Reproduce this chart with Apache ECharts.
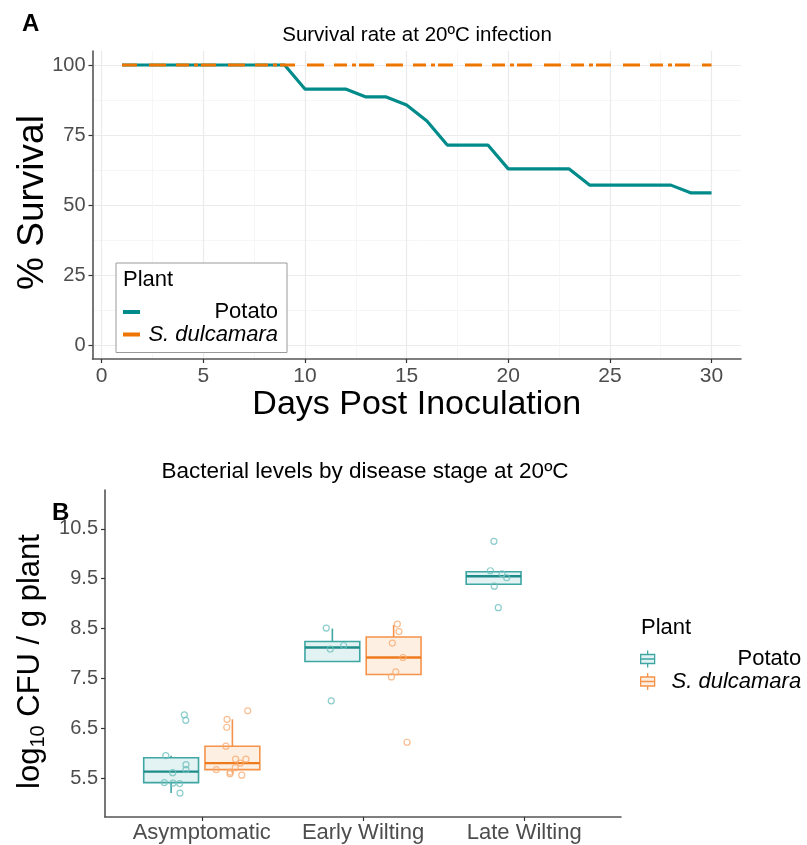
<!DOCTYPE html>
<html>
<head>
<meta charset="utf-8">
<script src="https://cdn.jsdelivr.net/npm/echarts@6/dist/echarts.min.js"></script>
<style>html,body{margin:0;padding:0;background:#fff}#c{width:807px;height:845px}</style>
</head>
<body>
<div id="c"></div>
<script>
const FONT = 'Liberation Sans, Arial, sans-serif';

// ---------- Panel A data ----------
const days = [1,2,3,4,5,6,7,8,9,10,11,12,13,14,15,16,17,18,19,20,21,22,23,24,25,26,27,28,29,30];
const potatoSurvival = [100,100,100,100,100,100,100,100,100,91.4,91.4,91.4,88.6,88.6,85.7,80.0,71.4,71.4,71.4,62.9,62.9,62.9,62.9,57.1,57.1,57.1,57.1,57.1,54.3,54.3];
const dulcamaraSurvival = [100,100,100,100,100,100,100,100,100,100,100,100,100,100,100,100,100,100,100,100,100,100,100,100,100,100,100,100,100,100];
const dayTicks = [0,5,10,15,20,25,30];
const dayMinorTicks = [2.5,7.5,12.5,17.5,22.5,27.5];
const survivalTicks = [0,25,50,75,100];
const survivalMinorTicks = [12.5,37.5,62.5,87.5];

// ---------- Panel B data ----------
const stages = ['Asymptomatic','Early Wilting','Late Wilting'];
const cfuTicks = [5.5,6.5,7.5,8.5,9.5,10.5];
// box statistics per stage: [lower whisker, Q1, median, Q3, upper whisker]
const potatoBox = [[5.20,5.41,5.63,5.91,5.95],[7.84,7.84,8.12,8.24,8.50],[9.39,9.39,9.55,9.64,9.64]];
const dulcamaraBox = [[5.60,5.67,5.80,6.14,6.68],[7.58,7.58,7.92,8.33,8.57],null];
// individual plants (log10 CFU/g) per stage
const potatoPoints = [
  [5.95,6.77,6.66,5.77,5.67,5.61,5.41,5.40,5.39,5.20],
  [8.51,8.09,8.16,7.05],
  [10.25,9.66,9.60,9.52,9.35,8.92]
];
const dulcamaraPoints = [
  [6.85,6.68,6.52,6.14,5.88,5.88,5.80,5.71,5.67,5.62,5.59,5.56],
  [8.59,8.44,8.21,7.92,7.63,7.53,6.22],
  []
];
// horizontal jitter (in category units)
const potatoJitter = [
  [-0.033,0.082,0.091,0.092,0.092,0.010,-0.042,0.012,0.053,0.055],
  [-0.038,-0.013,0.070,-0.007],
  [0.002,-0.020,0.052,0.081,0.004,0.029]
];
const dulcamaraJitter = [
  [0.095,-0.033,-0.035,-0.040,0.020,0.084,0.049,0.018,-0.100,-0.013,-0.015,0.058],
  [0.023,0.033,-0.008,0.058,0.013,-0.014,0.083],
  []
];

const TEAL = '#008B8B', ORANGE = '#EE7600';
const DODGE = 0.19, HALF = 0.17;

function boxData(stats, dodge) {
  const out = [];
  stats.forEach((s, i) => { if (s) out.push([i + 1 + dodge].concat(s)); });
  return out;
}
function pointData(vals, jit, dodge) {
  const out = [];
  vals.forEach((arr, i) => arr.forEach((v, k) => out.push([i + 1 + dodge + jit[i][k], v])));
  return out;
}
function boxRenderer(fill, stroke, medianColor) {
  return function (params, api) {
    const x = api.value(0), mn = api.value(1), q1 = api.value(2), md = api.value(3), q3 = api.value(4), mx = api.value(5);
    const tl = api.coord([x - HALF, q3]), br = api.coord([x + HALF, q1]);
    const cMax = api.coord([x, mx]), cQ3 = api.coord([x, q3]), cQ1 = api.coord([x, q1]), cMin = api.coord([x, mn]);
    const mL = api.coord([x - HALF, md]), mR = api.coord([x + HALF, md]);
    return {
      type: 'group',
      children: [
        { type: 'line', shape: { x1: cQ3[0], y1: cQ3[1], x2: cMax[0], y2: cMax[1] }, style: { stroke: stroke, lineWidth: 1.6 } },
        { type: 'line', shape: { x1: cQ1[0], y1: cQ1[1], x2: cMin[0], y2: cMin[1] }, style: { stroke: stroke, lineWidth: 1.6 } },
        { type: 'rect', shape: { x: tl[0], y: tl[1], width: br[0] - tl[0], height: br[1] - tl[1] }, style: { fill: fill, stroke: stroke, lineWidth: 1.6 } },
        { type: 'line', shape: { x1: mL[0], y1: mL[1], x2: mR[0], y2: mR[1] }, style: { stroke: medianColor, lineWidth: 2.4 } }
      ]
    };
  };
}

const tickLabel = { fontSize: 21, color: '#4D4D4D', fontFamily: FONT };
const axisLineStyle = { color: '#555555', width: 1.6 };
const tickStyle = { color: '#333333', width: 1.2 };
const legendRich = {
  r: { width: 133, align: 'right', fontSize: 22, lineHeight: 21, color: '#000', fontFamily: FONT },
  i: { width: 133, align: 'right', fontSize: 22, lineHeight: 21, color: '#000', fontFamily: FONT, fontStyle: 'italic' }
};
const legendRich2 = {
  r: { width: 140, align: 'right', fontSize: 22, lineHeight: 21, color: '#000', fontFamily: FONT },
  i: { width: 140, align: 'right', fontSize: 22, lineHeight: 21, color: '#000', fontFamily: FONT, fontStyle: 'italic' }
};
const boxIcon = 'path://M8,0L8,4M1,4L15,4L15,13L1,13ZM1,8.5L15,8.5M8,13L8,17';

const option = {
  animation: false,
  backgroundColor: '#fff',
  textStyle: { fontFamily: FONT },
  title: [
    { text: 'A', left: 22, top: 12, padding: 0, textStyle: { fontSize: 24, fontWeight: 'bold', color: '#000', fontFamily: FONT } },
    { text: 'Survival rate at 20ºC infection', left: 417, top: 25, padding: 0, textAlign: 'center', textStyle: { fontSize: 20.5, fontWeight: 'normal', color: '#000', fontFamily: FONT } },
    { text: 'Plant', left: 123, top: 269, padding: 0, textStyle: { fontSize: 22, fontWeight: 'normal', color: '#000', fontFamily: FONT } },
    { text: 'B', left: 52, top: 501, padding: 0, textStyle: { fontSize: 24, fontWeight: 'bold', color: '#000', fontFamily: FONT } },
    { text: 'Bacterial levels by disease stage at 20ºC', left: 365, top: 460, padding: 0, textAlign: 'center', textStyle: { fontSize: 22.5, fontWeight: 'normal', color: '#000', fontFamily: FONT } },
    { text: 'Plant', left: 641, top: 617, padding: 0, textStyle: { fontSize: 22, fontWeight: 'normal', color: '#000', fontFamily: FONT } }
  ],
  legend: [
    {
      left: 116, top: 263, orient: 'vertical',
      borderColor: '#9A9A9A', borderWidth: 1, backgroundColor: '#fff',
      padding: [38, 9, 7, 7], itemGap: 0.5, itemWidth: 17, itemHeight: 4, itemTextGap: 10,
      data: [
        { name: 'Potato', icon: 'rect', lineStyle: { type: 'solid', width: 3.5 } },
        { name: 'S. dulcamara', icon: 'rect', lineStyle: { type: 'solid', width: 3.5 } }
      ],
      formatter: n => n === 'Potato' ? '{r|Potato}' : '{i|S. dulcamara}',
      textStyle: { rich: legendRich },
      selectedMode: false
    },
    {
      left: 640, top: 648, orient: 'vertical',
      padding: 0, itemGap: 0.5, itemWidth: 17, itemHeight: 17, itemTextGap: 5,
      data: [
        { name: 'Potato CFU', icon: boxIcon, itemStyle: { color: '#E3F2F2', borderColor: '#3EA6A3', borderWidth: 1.3 } },
        { name: 'S. dulcamara CFU', icon: boxIcon, itemStyle: { color: '#FDEFE2', borderColor: '#F5934A', borderWidth: 1.3 } }
      ],
      formatter: n => n.indexOf('Potato') === 0 ? '{r|Potato}' : '{i|S. dulcamara}',
      textStyle: { rich: legendRich2 },
      selectedMode: false
    }
  ],
  grid: [
    { left: 92.5, top: 51, width: 648.5, height: 308, containLabel: false, outerBoundsMode: 'none' },
    { left: 105, top: 490, width: 516, height: 327, containLabel: false, outerBoundsMode: 'none' }
  ],
  xAxis: [
    {
      gridIndex: 0, type: 'value', min: -0.45, max: 31.45,
      axisLine: { show: true, onZero: false, lineStyle: axisLineStyle },
      axisTick: { show: true, length: 4, customValues: dayTicks, lineStyle: tickStyle },
      axisLabel: { customValues: dayTicks, margin: 7, ...tickLabel },
      splitLine: { show: true, lineStyle: { color: '#EBEBEB', width: 1.2 } },
      name: 'Days Post Inoculation', nameLocation: 'middle', nameGap: 13,
      nameTextStyle: { fontSize: 34, color: '#000', fontFamily: FONT }
    },
    {
      gridIndex: 0, type: 'value', min: -0.45, max: 31.45, position: 'bottom',
      axisLine: { show: false, onZero: false }, axisTick: { show: false, customValues: dayMinorTicks },
      axisLabel: { show: false, customValues: dayMinorTicks },
      splitLine: { show: true, lineStyle: { color: '#F4F4F4', width: 0.8 } }
    },
    {
      gridIndex: 1, type: 'value', min: 0.4, max: 3.6,
      axisLine: { show: true, onZero: false, lineStyle: axisLineStyle },
      axisTick: { show: true, length: 4, customValues: [1,2,3], lineStyle: tickStyle },
      axisLabel: { customValues: [1,2,3], margin: 5, formatter: v => stages[Math.round(v) - 1], ...tickLabel, fontSize: 22 },
      splitLine: { show: false }
    }
  ],
  yAxis: [
    {
      gridIndex: 0, type: 'value', min: -5, max: 105,
      axisLine: { show: true, onZero: false, lineStyle: axisLineStyle },
      axisTick: { show: true, length: 4, customValues: survivalTicks, lineStyle: tickStyle },
      axisLabel: { customValues: survivalTicks, margin: 7, ...tickLabel, fontSize: 20 },
      splitLine: { show: true, lineStyle: { color: '#EBEBEB', width: 1.2 } },
      name: '% Survival', nameLocation: 'middle', nameGap: 41.5, nameRotate: 90, nameMoveOverlap: false,
      nameTextStyle: { fontSize: 37, color: '#000', fontFamily: FONT, padding: [0, 0, 0, 5] }
    },
    {
      gridIndex: 0, type: 'value', min: -5, max: 105, position: 'left',
      axisLine: { show: false, onZero: false }, axisTick: { show: false, customValues: survivalMinorTicks },
      axisLabel: { show: false, customValues: survivalMinorTicks },
      splitLine: { show: true, lineStyle: { color: '#F4F4F4', width: 0.8 } }
    },
    {
      gridIndex: 1, type: 'value', min: 4.72, max: 11.28,
      axisLine: { show: true, onZero: false, lineStyle: axisLineStyle },
      axisTick: { show: true, length: 4, customValues: cfuTicks, lineStyle: tickStyle },
      axisLabel: { customValues: cfuTicks, margin: 7, formatter: v => v.toFixed(1), ...tickLabel, fontSize: 20 },
      splitLine: { show: false },
      name: '{n|log}{s|10}{n| CFU / g plant}', nameLocation: 'middle', nameGap: 46, nameRotate: 90,
      nameTextStyle: {
        padding: [0, 16, 0, 0],
        rich: {
          n: { fontSize: 31, color: '#000', fontFamily: FONT, lineHeight: 35 },
          s: { fontSize: 20, color: '#000', fontFamily: FONT, lineHeight: 22, verticalAlign: 'bottom' }
        }
      }
    }
  ],
  series: [
    {
      name: 'Potato', type: 'line', xAxisIndex: 0, yAxisIndex: 0,
      data: days.map((d, i) => [d, potatoSurvival[i]]),
      symbol: 'none', showSymbol: false, color: TEAL,
      lineStyle: { color: TEAL, width: 3.2 }, z: 3
    },
    {
      name: 'S. dulcamara', type: 'line', xAxisIndex: 0, yAxisIndex: 0,
      data: days.map((d, i) => [d, dulcamaraSurvival[i]]),
      symbol: 'none', showSymbol: false, color: ORANGE,
      lineStyle: { color: ORANGE, width: 3.2, type: [15, 12, 17, 10, 13, 5, 4, 3] }, z: 4
    },
    {
      name: 'Potato CFU', type: 'custom', xAxisIndex: 2, yAxisIndex: 2,
      renderItem: boxRenderer('#E3F2F2', '#3EA6A3', '#1E8C88'),
      encode: { x: 0, y: [1, 2, 3, 4, 5] },
      itemStyle: { color: '#3EA6A3' },
      data: boxData(potatoBox, -DODGE), z: 2
    },
    {
      name: 'S. dulcamara CFU', type: 'custom', xAxisIndex: 2, yAxisIndex: 2,
      renderItem: boxRenderer('#FDEFE2', '#F5934A', '#EE7A1E'),
      encode: { x: 0, y: [1, 2, 3, 4, 5] },
      itemStyle: { color: '#F5934A' },
      data: boxData(dulcamaraBox, DODGE), z: 2
    },
    {
      name: 'Potato CFU', type: 'scatter', xAxisIndex: 2, yAxisIndex: 2,
      data: pointData(potatoPoints, potatoJitter, -DODGE),
      symbol: 'circle', symbolSize: 6,
      itemStyle: { color: 'rgba(0,0,0,0)', borderColor: '#6FC0BE', borderWidth: 1.2 }, z: 5
    },
    {
      name: 'S. dulcamara CFU', type: 'scatter', xAxisIndex: 2, yAxisIndex: 2,
      data: pointData(dulcamaraPoints, dulcamaraJitter, DODGE),
      symbol: 'circle', symbolSize: 6,
      itemStyle: { color: 'rgba(0,0,0,0)', borderColor: '#F8AC74', borderWidth: 1.2 }, z: 5
    }
  ]
};

const chart = echarts.init(document.getElementById('c'), null, { renderer: 'canvas' });
chart.setOption(option);
</script>
</body>
</html>
